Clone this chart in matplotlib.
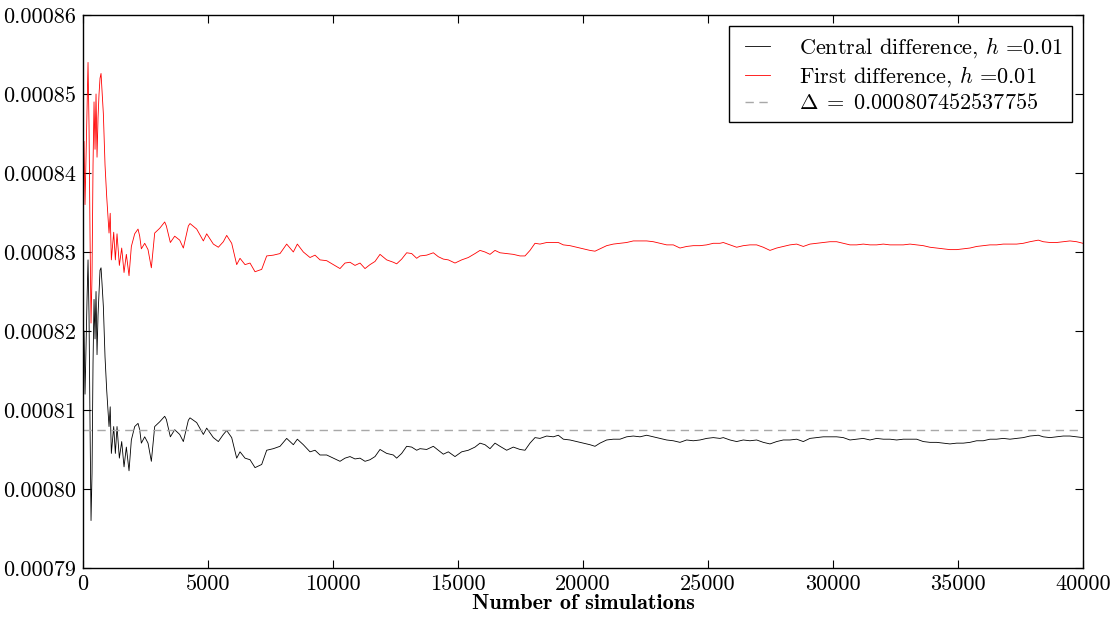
import numpy as np
import matplotlib
matplotlib.use('Agg')
import matplotlib.pyplot as plt
from matplotlib.ticker import FormatStrFormatter

plt.rcParams['font.family'] = 'serif'
plt.rcParams['font.serif'] = ['cmr10']
plt.rcParams['mathtext.fontset'] = 'cm'
plt.rcParams['axes.unicode_minus'] = False

# number of simulations and running estimates (in units of 1e-6)
n_sims = [0, 40, 80, 120, 160, 200, 240, 280, 320, 360, 400, 440, 480, 520, 560, 600, 640,
          680, 720, 760, 813, 880, 947, 1040, 1087, 1133, 1227, 1293, 1360, 1453, 1547, 1640,
          1733, 1840, 1933, 2067, 2200, 2267, 2333, 2467, 2600, 2733, 2867, 3067, 3267, 3333,
          3493, 3667, 3867, 4013, 4213, 4280, 4547, 4813, 4947, 5213, 5413, 5613, 5747, 5947,
          6147, 6280, 6480, 6680, 6880, 7147, 7347, 7613, 7880, 8147, 8413, 8573, 8813, 9080,
          9280, 9480, 9747, 10013, 10280, 10480, 10680, 10880, 11080, 11280, 11480, 11680,
          11880, 12147, 12413, 12547, 12747, 12947, 13147, 13347, 13480, 13747, 14013, 14213,
          14413, 14613, 14880, 15147, 15413, 15680, 15880, 16080, 16280, 16480, 16680, 16947,
          17213, 17480, 17680, 17880, 18080, 18280, 18547, 18813, 19013, 19213, 19480, 19747,
          20013, 20280, 20480, 20680, 20947, 21213, 21480, 21747, 22013, 22280, 22547, 22813,
          23080, 23347, 23613, 23880, 24147, 24413, 24680, 24947, 25213, 25480, 25613, 25880,
          26147, 26413, 26680, 26947, 27213, 27480, 27747, 28013, 28280, 28547, 28813, 29080,
          29347, 29613, 29880, 30147, 30413, 30680, 30947, 31213, 31480, 31747, 32013, 32280,
          32547, 32813, 33080, 33347, 33613, 33880, 34147, 34413, 34680, 34947, 35213, 35480,
          35747, 36013, 36280, 36547, 36813, 37080, 37347, 37613, 37880, 38213, 38413, 38680,
          38947, 39213, 39480, 39747, 40000]

central = [816, 820, 812, 818, 824, 829, 822, 808, 796, 802, 816, 824, 819, 825, 817, 822, 825,
           827.7, 828.0, 826.0, 823.1, 816.7, 812.5, 807.9, 810.4, 804.5, 807.9, 804.5, 807.9,
           803.9, 806.0, 802.8, 805.3, 802.3, 806.2, 807.9, 808.3, 807.5, 805.8, 806.6, 805.8,
           803.5, 807.9, 808.5, 809.2, 808.8, 806.6, 807.5, 806.9, 806.0, 808.7, 809.0, 808.4,
           806.9, 807.7, 806.5, 806.0, 806.9, 807.4, 806.5, 803.9, 804.7, 803.9, 803.7, 802.7,
           803.1, 804.9, 805.1, 805.4, 806.4, 805.6, 806.3, 805.6, 804.7, 804.9, 804.3, 804.3,
           803.9, 803.5, 803.9, 804.1, 803.8, 803.9, 803.5, 803.7, 804.1, 805.0, 804.5, 804.3,
           803.9, 804.5, 805.4, 805.3, 804.9, 805.1, 805.0, 805.4, 804.9, 804.4, 804.7, 804.1,
           804.7, 804.9, 805.3, 805.8, 805.6, 805.1, 805.8, 805.4, 804.9, 805.3, 805.0, 804.9,
           805.8, 806.5, 806.4, 806.7, 806.6, 806.8, 806.3, 806.2, 806.0, 805.8, 805.6, 805.4,
           805.8, 806.2, 806.3, 806.3, 806.6, 806.7, 806.6, 806.8, 806.6, 806.4, 806.2, 806.1,
           805.9, 806.2, 806.1, 806.2, 806.4, 806.5, 806.4, 806.5, 806.2, 806.0, 806.2, 806.1,
           806.2, 805.9, 805.7, 806.0, 806.2, 806.2, 806.3, 806.0, 806.4, 806.5, 806.6, 806.6,
           806.6, 806.5, 806.2, 806.3, 806.4, 806.2, 806.4, 806.3, 806.3, 806.2, 806.3, 806.3,
           806.3, 806.0, 805.9, 805.9, 805.8, 805.7, 805.8, 805.8, 805.9, 806.1, 806.1, 806.3,
           806.3, 806.4, 806.3, 806.4, 806.5, 806.7, 806.8, 806.6, 806.5, 806.6, 806.7, 806.7,
           806.6, 806.5]

first = [838, 844, 836, 842, 848, 854, 846, 832, 821, 827, 841, 849, 843, 850, 842, 847, 850,
         852.0, 852.6, 850.5, 847.5, 841.0, 837.0, 832.4, 834.9, 829.0, 832.5, 829.0, 832.3,
         828.3, 830.5, 827.4, 829.7, 827.0, 830.7, 832.3, 832.9, 832.0, 830.4, 831.1, 830.3,
         828.0, 832.4, 833.0, 833.8, 833.3, 831.2, 832.0, 831.5, 830.5, 833.3, 833.6, 832.9,
         831.4, 832.3, 831.0, 830.6, 831.3, 832.1, 831.1, 828.4, 829.2, 828.4, 828.6, 827.5,
         827.8, 829.5, 829.6, 829.8, 831.0, 830.0, 831.0, 830.0, 829.3, 829.6, 829.0, 828.9,
         828.4, 827.9, 828.6, 828.7, 828.3, 828.6, 827.9, 828.4, 828.8, 829.7, 829.0, 828.7,
         828.5, 829.1, 829.9, 829.8, 829.2, 829.5, 829.6, 829.9, 829.4, 829.1, 829.0, 828.6,
         829.0, 829.3, 829.8, 830.2, 830.0, 829.7, 830.2, 829.9, 829.8, 829.7, 829.5, 829.5,
         830.2, 831.1, 831.0, 831.2, 831.2, 831.2, 830.9, 830.8, 830.6, 830.4, 830.2, 830.1,
         830.4, 830.8, 831.0, 831.1, 831.2, 831.4, 831.4, 831.4, 831.3, 831.1, 830.9, 830.9,
         830.5, 830.7, 830.8, 830.8, 830.9, 831.1, 831.1, 831.2, 830.9, 830.6, 830.8, 830.9,
         830.9, 830.6, 830.2, 830.5, 830.7, 830.9, 831.0, 830.7, 831.0, 831.1, 831.2, 831.3,
         831.3, 831.1, 830.9, 830.9, 831.0, 830.9, 830.9, 831.0, 830.9, 830.9, 830.9, 831.0,
         830.9, 830.8, 830.6, 830.5, 830.4, 830.3, 830.3, 830.4, 830.5, 830.7, 830.8, 830.9,
         830.9, 831.0, 831.0, 831.0, 831.1, 831.3, 831.5, 831.3, 831.2, 831.2, 831.3, 831.4,
         831.3, 831.1]

delta = 0.000807452537755
h = 0.01

x = np.array(n_sims)
y_c = np.array(central) * 1e-6
y_f = np.array(first) * 1e-6

fig = plt.figure(figsize=(11.13, 6.18), dpi=100)
ax = fig.add_axes([0.0746, 0.081, 0.8984, 0.8947])

ax.plot(x, y_c, color='black', linewidth=0.6, label=r'Central difference, $h$ =%.2f' % h)
ax.plot(x, y_f, color='red', linewidth=0.6, label=r'First difference, $h$ =%.2f' % h)
ax.axhline(delta, color='#a8a8a8', linestyle='--', dashes=(6, 4), linewidth=1.0,
           label=r'$\Delta \;=\; %.15f$' % delta)

ax.set_xlim(0, 40000)
ax.set_ylim(0.00079, 0.00086)
ax.set_xticks(np.arange(0, 40001, 5000))
ax.set_yticks(np.arange(0.00079, 0.000861, 0.00001))
ax.yaxis.set_major_formatter(FormatStrFormatter('%.5f'))
ax.xaxis.set_major_formatter(FormatStrFormatter('%d'))
ax.tick_params(direction='in', top=True, right=True, length=6, labelsize=16, pad=5)
for s in ax.spines.values():
    s.set_linewidth(1.0)

ax.set_xlabel('Number of simulations', fontfamily='cmb10', fontsize=16, labelpad=0)

leg = ax.legend(loc='upper right', fontsize=16, fancybox=False, framealpha=1,
                edgecolor='black', numpoints=2, handlelength=1.75, borderpad=0.4,
                borderaxespad=0.5, labelspacing=0.2, handletextpad=1.0)
leg.get_frame().set_linewidth(1.0)

fig.savefig('out.png', dpi=100)
